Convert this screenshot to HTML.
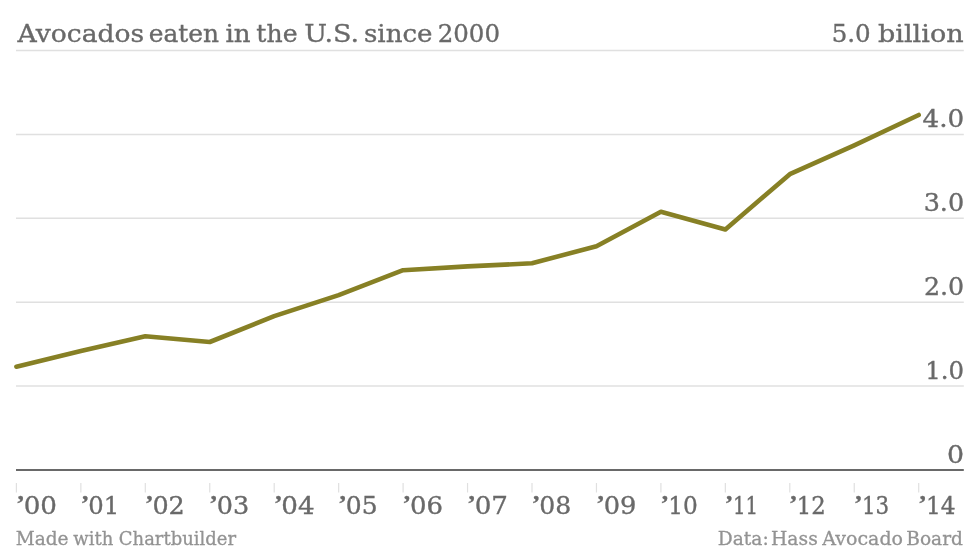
<!DOCTYPE html>
<html><head><meta charset="utf-8"><title>Avocados eaten in the U.S. since 2000</title>
<style>
html,body{margin:0;padding:0;background:#fff;}
svg{display:block;will-change:transform;}
text{font-family:"DejaVu Serif","Liberation Serif",serif;}
</style></head>
<body>
<svg width="980" height="551" viewBox="0 0 980 551">
<rect width="980" height="551" fill="#fff"/>
<g stroke="#e0e0e0" stroke-width="1.5">
<line x1="16" y1="50.4" x2="963.8" y2="50.4"/>
<line x1="16" y1="134.4" x2="963.8" y2="134.4"/>
<line x1="16" y1="218.3" x2="963.8" y2="218.3"/>
<line x1="16" y1="302.2" x2="963.8" y2="302.2"/>
<line x1="16" y1="386.1" x2="963.8" y2="386.1"/>
</g>
<line x1="16" y1="470" x2="963.8" y2="470" stroke="#696969" stroke-width="1.9"/>
<g stroke="#e0e0e0" stroke-width="1.2">
<line x1="16.40" y1="483" x2="16.40" y2="492.5"/><line x1="80.85" y1="483" x2="80.85" y2="492.5"/><line x1="145.30" y1="483" x2="145.30" y2="492.5"/><line x1="209.75" y1="483" x2="209.75" y2="492.5"/><line x1="274.20" y1="483" x2="274.20" y2="492.5"/><line x1="338.65" y1="483" x2="338.65" y2="492.5"/><line x1="403.10" y1="483" x2="403.10" y2="492.5"/><line x1="467.55" y1="483" x2="467.55" y2="492.5"/><line x1="532.00" y1="483" x2="532.00" y2="492.5"/><line x1="596.45" y1="483" x2="596.45" y2="492.5"/><line x1="660.90" y1="483" x2="660.90" y2="492.5"/><line x1="725.35" y1="483" x2="725.35" y2="492.5"/><line x1="789.80" y1="483" x2="789.80" y2="492.5"/><line x1="854.25" y1="483" x2="854.25" y2="492.5"/><line x1="918.70" y1="483" x2="918.70" y2="492.5"/>
</g>
<polyline fill="none" stroke="#878025" stroke-width="4.6" stroke-linecap="round" stroke-linejoin="round" points="16.40,366.7 80.85,350.9 145.30,336.3 209.75,342.0 274.20,316.1 338.65,295.1 403.10,270.2 467.55,266.4 532.00,263.3 596.45,246.2 660.90,211.8 725.35,229.5 789.80,174.2 854.25,145.3 918.70,115.0"/>
<g fill="#696969" stroke="#696969" stroke-width="0.35">
<text y="42.2" font-size="24.60"><tspan x="17.57" textLength="126.67" lengthAdjust="spacingAndGlyphs">Avocados</tspan> <tspan x="148.76" textLength="70.28" lengthAdjust="spacingAndGlyphs">eaten</tspan> <tspan x="225.46" textLength="25.17" lengthAdjust="spacingAndGlyphs">in</tspan> <tspan x="256.35" textLength="41.16" lengthAdjust="spacingAndGlyphs">the</tspan> <tspan x="304.15" textLength="54.95" lengthAdjust="spacingAndGlyphs">U.S.</tspan> <tspan x="363.94" textLength="68.54" lengthAdjust="spacingAndGlyphs">since</tspan> <tspan x="437.69" textLength="62.30" lengthAdjust="spacingAndGlyphs">2000</tspan></text>
<text y="42.2" font-size="24.60"><tspan x="831.69" textLength="39.04" lengthAdjust="spacingAndGlyphs">5.0</tspan> <tspan x="877.99" textLength="85.60" lengthAdjust="spacingAndGlyphs">billion</tspan></text>
<text y="126.9" font-size="24.60"><tspan x="922.51" textLength="41.74" lengthAdjust="spacingAndGlyphs">4.0</tspan></text>
<text y="210.9" font-size="24.60"><tspan x="923.66" textLength="40.53" lengthAdjust="spacingAndGlyphs">3.0</tspan></text>
<text y="294.8" font-size="24.60"><tspan x="923.93" textLength="40.26" lengthAdjust="spacingAndGlyphs">2.0</tspan></text>
<text y="378.8" font-size="24.60"><tspan x="925.27" textLength="38.85" lengthAdjust="spacingAndGlyphs">1.0</tspan></text>
<text y="462.7" font-size="24.60"><tspan x="947.12" textLength="17.05" lengthAdjust="spacingAndGlyphs">0</tspan></text>
</g>
<g fill="#696969" stroke="#696969" stroke-width="0.35">
<text y="514.0" font-size="24.80"><tspan font-family="Liberation Serif" font-weight="bold" font-size="24.0" x="16.27" dy="-2.6" textLength="8.49" lengthAdjust="spacingAndGlyphs">’</tspan><tspan x="23.67" dy="2.6" textLength="33.33" lengthAdjust="spacingAndGlyphs">00</tspan></text>
<text y="514.0" font-size="24.80"><tspan font-family="Liberation Serif" font-weight="bold" font-size="24.0" x="80.67" dy="-2.6" textLength="8.49" lengthAdjust="spacingAndGlyphs">’</tspan><tspan x="88.20" dy="2.6" textLength="30.97" lengthAdjust="spacingAndGlyphs">01</tspan></text>
<text y="514.0" font-size="24.80"><tspan font-family="Liberation Serif" font-weight="bold" font-size="24.0" x="144.97" dy="-2.6" textLength="8.49" lengthAdjust="spacingAndGlyphs">’</tspan><tspan x="152.42" dy="2.6" textLength="32.39" lengthAdjust="spacingAndGlyphs">02</tspan></text>
<text y="514.0" font-size="24.80"><tspan font-family="Liberation Serif" font-weight="bold" font-size="24.0" x="209.27" dy="-2.6" textLength="8.49" lengthAdjust="spacingAndGlyphs">’</tspan><tspan x="216.72" dy="2.6" textLength="32.43" lengthAdjust="spacingAndGlyphs">03</tspan></text>
<text y="514.0" font-size="24.80"><tspan font-family="Liberation Serif" font-weight="bold" font-size="24.0" x="273.97" dy="-2.6" textLength="8.49" lengthAdjust="spacingAndGlyphs">’</tspan><tspan x="281.37" dy="2.6" textLength="33.31" lengthAdjust="spacingAndGlyphs">04</tspan></text>
<text y="514.0" font-size="24.80"><tspan font-family="Liberation Serif" font-weight="bold" font-size="24.0" x="338.27" dy="-2.6" textLength="8.49" lengthAdjust="spacingAndGlyphs">’</tspan><tspan x="345.75" dy="2.6" textLength="31.81" lengthAdjust="spacingAndGlyphs">05</tspan></text>
<text y="514.0" font-size="24.80"><tspan font-family="Liberation Serif" font-weight="bold" font-size="24.0" x="402.57" dy="-2.6" textLength="8.49" lengthAdjust="spacingAndGlyphs">’</tspan><tspan x="409.98" dy="2.6" textLength="33.04" lengthAdjust="spacingAndGlyphs">06</tspan></text>
<text y="514.0" font-size="24.80"><tspan font-family="Liberation Serif" font-weight="bold" font-size="24.0" x="467.27" dy="-2.6" textLength="8.49" lengthAdjust="spacingAndGlyphs">’</tspan><tspan x="474.67" dy="2.6" textLength="33.33" lengthAdjust="spacingAndGlyphs">07</tspan></text>
<text y="514.0" font-size="24.80"><tspan font-family="Liberation Serif" font-weight="bold" font-size="24.0" x="531.77" dy="-2.6" textLength="8.49" lengthAdjust="spacingAndGlyphs">’</tspan><tspan x="539.24" dy="2.6" textLength="31.98" lengthAdjust="spacingAndGlyphs">08</tspan></text>
<text y="514.0" font-size="24.80"><tspan font-family="Liberation Serif" font-weight="bold" font-size="24.0" x="596.27" dy="-2.6" textLength="8.49" lengthAdjust="spacingAndGlyphs">’</tspan><tspan x="603.70" dy="2.6" textLength="32.66" lengthAdjust="spacingAndGlyphs">09</tspan></text>
<text y="514.0" font-size="24.80"><tspan font-family="Liberation Serif" font-weight="bold" font-size="24.0" x="660.47" dy="-2.6" textLength="8.49" lengthAdjust="spacingAndGlyphs">’</tspan><tspan x="668.21" dy="2.6" textLength="29.57" lengthAdjust="spacingAndGlyphs">10</tspan></text>
<text y="514.0" font-size="24.80"><tspan font-family="Liberation Serif" font-weight="bold" font-size="24.0" x="724.77" dy="-2.6" textLength="8.49" lengthAdjust="spacingAndGlyphs">’</tspan><tspan x="732.92" dy="2.6" textLength="25.20" lengthAdjust="spacingAndGlyphs">11</tspan></text>
<text y="514.0" font-size="24.80"><tspan font-family="Liberation Serif" font-weight="bold" font-size="24.0" x="789.07" dy="-2.6" textLength="8.49" lengthAdjust="spacingAndGlyphs">’</tspan><tspan x="796.87" dy="2.6" textLength="28.96" lengthAdjust="spacingAndGlyphs">12</tspan></text>
<text y="514.0" font-size="24.80"><tspan font-family="Liberation Serif" font-weight="bold" font-size="24.0" x="853.97" dy="-2.6" textLength="8.49" lengthAdjust="spacingAndGlyphs">’</tspan><tspan x="861.93" dy="2.6" textLength="27.22" lengthAdjust="spacingAndGlyphs">13</tspan></text>
<text y="514.0" font-size="24.80"><tspan font-family="Liberation Serif" font-weight="bold" font-size="24.0" x="918.27" dy="-2.6" textLength="8.49" lengthAdjust="spacingAndGlyphs">’</tspan><tspan x="926.00" dy="2.6" textLength="29.73" lengthAdjust="spacingAndGlyphs">14</tspan></text>
</g>
<g fill="#939393" stroke="#939393" stroke-width="0.3">
<text y="545.0" font-size="18.40"><tspan x="15.67" textLength="52.90" lengthAdjust="spacingAndGlyphs">Made</tspan> <tspan x="73.24" textLength="40.03" lengthAdjust="spacingAndGlyphs">with</tspan> <tspan x="118.82" textLength="117.16" lengthAdjust="spacingAndGlyphs">Chartbuilder</tspan></text>
<text y="545.0" font-size="18.40"><tspan x="717.78" textLength="50.94" lengthAdjust="spacingAndGlyphs">Data:</tspan> <tspan x="770.97" textLength="46.85" lengthAdjust="spacingAndGlyphs">Hass</tspan> <tspan x="822.29" textLength="80.71" lengthAdjust="spacingAndGlyphs">Avocado</tspan> <tspan x="906.29" textLength="56.60" lengthAdjust="spacingAndGlyphs">Board</tspan></text>
</g>
</svg>
</body></html>
